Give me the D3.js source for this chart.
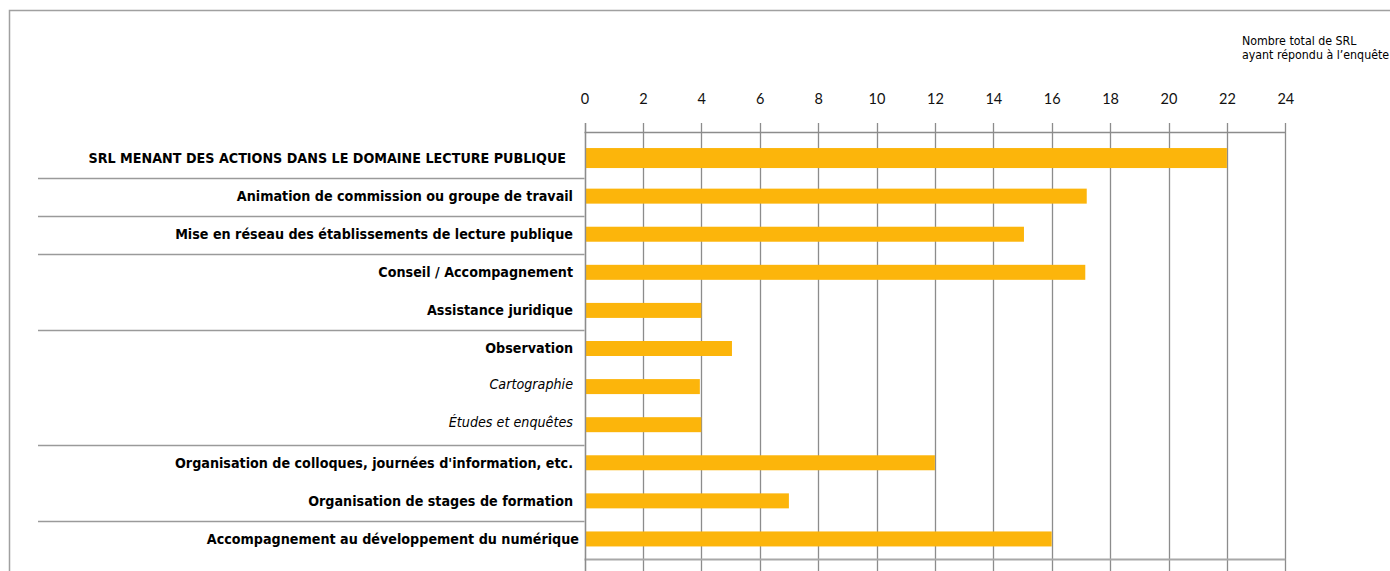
<!DOCTYPE html>
<html>
<head>
<meta charset="utf-8">
<script src="https://cdn.jsdelivr.net/npm/d3@7"></script>
<style>
  body { margin: 0; background: #fff; }
  .cat-label { font-family: "Liberation Sans Narrow", "DejaVu Sans Condensed", Arial, sans-serif; font-size: 14.2px; fill: #000; }
  .tick text { font-family: Lato, "Open Sans", sans-serif; font-size: 14.5px; fill: #111; }
  .note { font-family: "Liberation Sans Narrow", "DejaVu Sans Condensed", Arial, sans-serif; font-size: 12.3px; fill: #000; }
</style>
</head>
<body>
<div id="chart"></div>
<script>
// categories (top to bottom)
var categories = [
  "SRL MENANT DES ACTIONS DANS LE DOMAINE LECTURE PUBLIQUE",
  "Animation de commission ou groupe de travail",
  "Mise en réseau des établissements de lecture publique",
  "Conseil / Accompagnement",
  "Assistance juridique",
  "Observation",
  "Cartographie",
  "Études et enquêtes",
  "Organisation de colloques, journées d'information, etc.",
  "Organisation de stages de formation",
  "Accompagnement au développement du numérique"
];
var values = [22, 17.2, 15.05, 17.15, 4, 5.05, 3.95, 4, 12, 7, 16];
var italicRows = ["Cartographie", "Études et enquêtes"];
// a separator line is drawn after these rows
var groupEnds = [0, 1, 2, 4, 7, 9];
var tickValues = [0, 2, 4, 6, 8, 10, 12, 14, 16, 18, 20, 22, 24];
var noteLines = ["Nombre total de SRL", "ayant répondu à l’enquête"];

var width = 1390, height = 571;
var svg = d3.select("#chart").append("svg")
    .attr("width", width)
    .attr("height", height);

// outer frame
svg.append("rect")
    .attr("x", 9.5).attr("y", 10.5)
    .attr("width", 1400).attr("height", 600)
    .attr("fill", "none")
    .attr("stroke", "#a0a0a0")
    .attr("stroke-width", 1.5);

var x = d3.scaleLinear().domain([0, 24]).range([584.5, 1285.3]);
var y = d3.scaleBand().domain(categories).range([139, 558]);

var axisY = 132, baseY = 559;

function rowMid(i) {
  return y(categories[i]) + y.bandwidth() / 2;
}

// grid lines
svg.append("g")
    .selectAll("line")
    .data(tickValues)
    .join("line")
    .attr("x1", function(d) { return Math.round(x(d)) + 0.5; })
    .attr("x2", function(d) { return Math.round(x(d)) + 0.5; })
    .attr("y1", axisY - 9)
    .attr("y2", 571)
    .attr("stroke", "#8c8c8c")
    .attr("stroke-width", 1.3);

// top axis with labels
var axisTop = d3.axisTop(x)
    .tickValues(tickValues)
    .tickSize(0)
    .tickPadding(28);
var gTop = svg.append("g")
    .attr("transform", "translate(0," + axisY + ")")
    .call(axisTop);
gTop.select(".domain").remove();

// horizontal axis lines
svg.append("line")
    .attr("x1", x(0)).attr("x2", x(24))
    .attr("y1", axisY + 0.5).attr("y2", axisY + 0.5)
    .attr("stroke", "#8c8c8c").attr("stroke-width", 1.3);
svg.append("line")
    .attr("x1", x(0)).attr("x2", x(24))
    .attr("y1", baseY + 0.5).attr("y2", baseY + 0.5)
    .attr("stroke", "#a8a8a8").attr("stroke-width", 2);

// group separators in the label area
svg.append("g")
    .selectAll("line")
    .data(groupEnds)
    .join("line")
    .attr("x1", 38)
    .attr("x2", x(0))
    .attr("y1", function(i) { return Math.round((rowMid(i) + rowMid(i + 1)) / 2) + 1.5; })
    .attr("y2", function(i) { return Math.round((rowMid(i) + rowMid(i + 1)) / 2) + 1.5; })
    .attr("stroke", "#9a9a9a")
    .attr("stroke-width", 1.3);

// bars
svg.append("g")
    .selectAll("rect")
    .data(values)
    .join("rect")
    .attr("x", x(0) + 1)
    .attr("y", function(d, i) {
      var h = i === 0 ? 20 : 15;
      return rowMid(i) - h / 2;
    })
    .attr("width", function(d) { return x(d) - x(0) - 1; })
    .attr("height", function(d, i) { return i === 0 ? 20 : 15; })
    .attr("fill", "#fcb50b");

// vertical axis line at 0
svg.append("line")
    .attr("x1", Math.round(x(0)) + 0.5).attr("x2", Math.round(x(0)) + 0.5)
    .attr("y1", axisY - 9).attr("y2", 571)
    .attr("stroke", "#8c8c8c").attr("stroke-width", 1.3);

// category labels
svg.append("g")
    .selectAll("text")
    .data(categories)
    .join("text")
    .attr("class", "cat-label")
    .attr("x", function(d, i) { return i === 0 ? 566 : (i === 10 ? 579 : 573); })
    .attr("y", function(d, i) { return rowMid(i) - (italicRows.indexOf(d) >= 0 ? 3 : 0); })
    .attr("dy", "0.35em")
    .attr("text-anchor", "end")
    .style("font-weight", function(d) { return italicRows.indexOf(d) >= 0 ? "normal" : "bold"; })
    .style("font-style", function(d) { return italicRows.indexOf(d) >= 0 ? "italic" : "normal"; })
    .text(function(d) { return d; });

// note at top right
svg.append("g")
    .selectAll("text")
    .data(noteLines)
    .join("text")
    .attr("class", "note")
    .attr("x", 1242)
    .attr("y", function(d, i) { return 45 + i * 14; })
    .text(function(d) { return d; });
</script>
</body>
</html>
